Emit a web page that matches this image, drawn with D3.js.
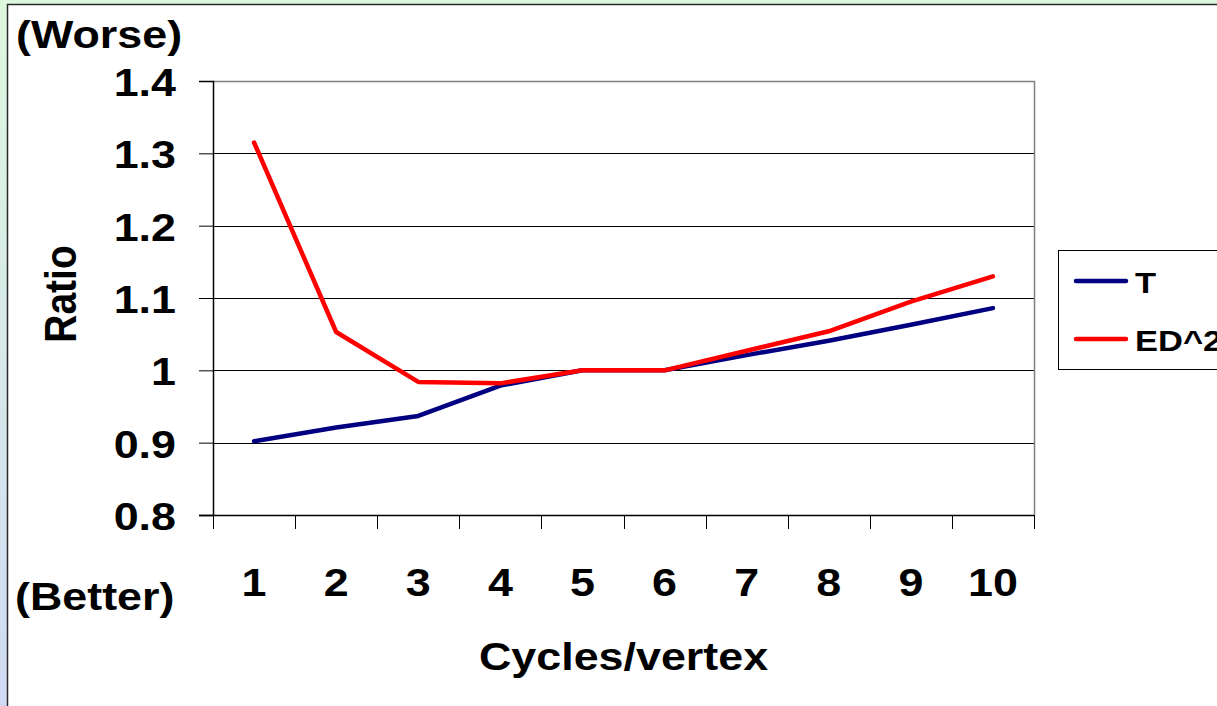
<!DOCTYPE html>
<html>
<head>
<meta charset="utf-8">
<script src="https://cdn.jsdelivr.net/npm/d3@7/dist/d3.min.js"></script>
<style>
  html, body { margin: 0; padding: 0; background: #fff; }
  svg { display: block; }
  text { font-family: Arial, "Liberation Sans", Helvetica, sans-serif; font-weight: bold; fill: #000; }
</style>
</head>
<body>
<svg id="chart" width="1217" height="706"></svg>
<script>
// Cycles per vertex (x categories)
const categories = ["1", "2", "3", "4", "5", "6", "7", "8", "9", "10"];
// Ratio relative to the 5-6 cycles/vertex baseline
const seriesT   = [0.902, 0.921, 0.937, 0.979, 1.0, 1.0, 1.021, 1.041, 1.063, 1.086];
const seriesED2 = [1.315, 1.053, 0.984, 0.982, 1.0, 1.0, 1.027, 1.054, 1.095, 1.130];
const seriesNames  = ["T", "ED^2"];
const seriesColors = ["#000080", "#ff0000"];
const yTicks = [0.8, 0.9, 1.0, 1.1, 1.2, 1.3, 1.4];
const yTickLabels = ["0.8", "0.9", "1", "1.1", "1.2", "1.3", "1.4"];

const W = 1217, H = 706;
const plot = { left: 213, right: 1034, top: 81, bottom: 515 };
const FS = 39;        // main label font size
const STRETCH = 1.15; // horizontal widening of the lettering

const svg = d3.select("#chart");

// Slide backdrop: soft green-to-blue strip with a white panel
const defs = svg.append("defs");
const grad = defs.append("linearGradient").attr("id", "bg").attr("x1", 0).attr("y1", 0).attr("x2", 0).attr("y2", 1);
grad.append("stop").attr("offset", "0%").attr("stop-color", "#def8de");
grad.append("stop").attr("offset", "100%").attr("stop-color", "#d0daf4");
svg.append("rect").attr("width", W).attr("height", H).attr("fill", "url(#bg)");
svg.append("rect").attr("x", 7.5).attr("y", 4.5).attr("width", W).attr("height", H)
  .attr("fill", "#fff").attr("stroke", "#2a2a2a").attr("stroke-width", 1.5);

const x = d3.scaleBand().domain(categories).range([plot.left, plot.right]).padding(0);
const xc = c => x(c) + x.bandwidth() / 2;
const y = d3.scaleLinear().domain([0.8, 1.4]).range([plot.bottom, plot.top]);

// stretched text helper
function label(g, str, tx, ty, anchor, size, rotate) {
  const t = g.append("g")
    .attr("transform", `translate(${tx},${ty}) scale(${STRETCH},1)` + (rotate ? ` rotate(${rotate})` : ""));
  return t.append("text").attr("text-anchor", anchor).attr("font-size", size).text(str);
}

// Gridlines
svg.append("g").selectAll("line")
  .data(yTicks.filter(v => v > 0.8 && v < 1.4))
  .join("line")
  .attr("x1", plot.left).attr("x2", plot.right)
  .attr("y1", d => Math.round(y(d)) + 0.5).attr("y2", d => Math.round(y(d)) + 0.5)
  .attr("stroke", "#000").attr("stroke-width", 1);

// Plot border (top and right)
svg.append("path")
  .attr("d", `M${plot.left},${plot.top + 0.5}H${plot.right + 0.5}V${plot.bottom}`)
  .attr("fill", "none").attr("stroke", "#808080").attr("stroke-width", 1.5);

// Y axis
const yAxis = d3.axisLeft(y).tickValues(yTicks).tickSize(14).tickFormat("");
const gy = svg.append("g").attr("transform", `translate(${plot.left},0)`).call(yAxis);
gy.select(".domain").attr("stroke", "#000").attr("stroke-width", 1.5);
gy.selectAll(".tick line").attr("stroke", "#000");
yTicks.forEach((v, i) => label(svg, yTickLabels[i], 176, y(v) + 15, "end", FS));

// X axis: ticks at category boundaries
const gx = svg.append("g").attr("transform", `translate(0,${plot.bottom})`);
gx.append("line").attr("x1", plot.left - 14).attr("x2", plot.right).attr("y1", 0.5).attr("y2", 0.5)
  .attr("stroke", "#000").attr("stroke-width", 1.5);
const bounds = categories.map(c => x(c)).concat([plot.right]);
gx.selectAll("line.tk").data(bounds).join("line").attr("class", "tk")
  .attr("x1", d => Math.round(d) + 0.5).attr("x2", d => Math.round(d) + 0.5)
  .attr("y1", 0).attr("y2", 14).attr("stroke", "#000");
categories.forEach(c => label(svg, c, xc(c), 596, "middle", FS));

// Axis titles and annotations
label(svg, "Cycles/vertex", (plot.left + plot.right) / 2, 670, "middle", FS);
label(svg, "Ratio", 76, 294, "middle", FS, -90);
label(svg, "(Worse)", 16, 48, "start", FS);
label(svg, "(Better)", 15, 610, "start", FS);

// Series lines
const line = d3.line().x((d, i) => xc(categories[i])).y(d => y(d));
[seriesT, seriesED2].forEach((s, k) => {
  svg.append("path").datum(s).attr("d", line)
    .attr("fill", "none").attr("stroke", seriesColors[k]).attr("stroke-width", 4.5)
    .attr("stroke-linejoin", "round").attr("stroke-linecap", "round");
});

// Legend
const lg = svg.append("g");
lg.append("rect").attr("x", 1058.5).attr("y", 250.5).attr("width", 200).attr("height", 119)
  .attr("fill", "#fff").attr("stroke", "#000").attr("stroke-width", 1);
seriesNames.forEach((n, k) => {
  const ly = 281 + k * 58;
  lg.append("line").attr("x1", 1076).attr("x2", 1126).attr("y1", ly).attr("y2", ly)
    .attr("stroke", seriesColors[k]).attr("stroke-width", 4.5).attr("stroke-linecap", "round");
  label(lg, n, 1135, ly + 12, "start", 30);
});
</script>
</body>
</html>
